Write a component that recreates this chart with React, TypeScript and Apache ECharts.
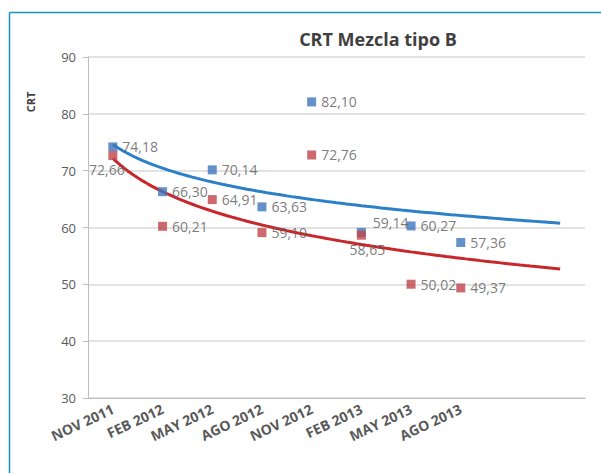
import React, { useEffect, useRef } from "react";
import * as echarts from "echarts";

const categories = ["NOV 2011", "FEB 2012", "MAY 2012", "AGO 2012", "NOV 2012", "FEB 2013", "MAY 2013", "AGO 2013"];
const forecastSlots = ["", ""];
const blueValues = [74.18, 66.3, 70.14, 63.63, 82.1, 59.14, 60.27, 57.36];
const redValues = [72.66, 60.21, 64.91, 59.1, 72.76, 58.65, 50.02, 49.37];
const yTicks = { min: 30, max: 90, interval: 10 };

// Logarithmic least-squares trendline (as the spreadsheet's trendline), forecast 2 periods
function logFit(values: number[]) {
  const xs = values.map((_, i) => Math.log(i + 1));
  const n = values.length;
  const mx = xs.reduce((a, b) => a + b, 0) / n;
  const my = values.reduce((a, b) => a + b, 0) / n;
  let sxy = 0, sxx = 0;
  xs.forEach((x, i) => { sxy += (x - mx) * (values[i] - my); sxx += (x - mx) * (x - mx); });
  const a = sxy / sxx;
  const b = my - a * mx;
  const pts: number[][] = [];
  for (let k = 10; k <= (n + 2) * 10; k++) {
    const x = k / 10;
    pts.push([x, a * Math.log(x) + b]);
  }
  return pts;
}

const fmt = (v: number) => v.toFixed(2).replace(".", ",");
const FONT = "'Open Sans', Lato, sans-serif";

export default function App() {
  const ref = useRef<HTMLDivElement>(null);
  useEffect(() => {
    if (!ref.current) return;
    const chart = echarts.init(ref.current, undefined, { renderer: "svg" });
    const xCats = [...categories, ...forecastSlots];
    const labelBase = { show: true, color: "#595959", fontSize: 14, fontFamily: FONT, distance: 5, formatter: (p: any) => fmt(p.value) };
    const blueLabel: any[] = blueValues.map(() => ({}));
    blueLabel[5] = { offset: [2, -10] };
    const redLabel: any[] = redValues.map(() => ({}));
    redLabel[0] = { position: "bottom", offset: [-6, -3] };
    redLabel[5] = { position: "bottom", offset: [6, -2] };
    chart.setOption({
      animation: false,
      backgroundColor: "#ffffff",
      textStyle: { fontFamily: FONT },
      grid: { left: 88, right: 16, top: 57, bottom: 75, containLabel: false },
      xAxis: [
        {
          type: "category",
          data: xCats,
          boundaryGap: true,
          axisLine: { lineStyle: { color: "#bfbfbf" } },
          axisTick: { show: false },
          axisLabel: { rotate: 25, color: "#595959", fontSize: 14, fontWeight: "bold", fontFamily: FONT, margin: 10, interval: 0 },
          splitLine: { show: false },
        },
        { type: "value", min: 0.5, max: 10.5, show: false },
      ],
      yAxis: {
        type: "value",
        min: yTicks.min,
        max: yTicks.max,
        interval: yTicks.interval,
        axisLine: { show: true, lineStyle: { color: "#bfbfbf" } },
        axisTick: { show: true, length: 5, lineStyle: { color: "#bfbfbf" } },
        axisLabel: { color: "#595959", fontSize: 13, fontFamily: FONT, margin: 12 },
        splitLine: { lineStyle: { color: "#d9d9d9", width: 1.5 } },
      },
      series: [
        {
          type: "line",
          xAxisIndex: 1,
          data: logFit(blueValues),
          showSymbol: false,
          lineStyle: { color: "#2b80c8", width: 3 },
          z: 2,
        },
        {
          type: "line",
          xAxisIndex: 1,
          data: logFit(redValues),
          showSymbol: false,
          lineStyle: { color: "#c8282c", width: 3 },
          z: 2,
        },
        {
          type: "scatter",
          xAxisIndex: 0,
          data: blueValues.map((v, i) => ({ value: v, label: blueLabel[i] })),
          symbol: "rect",
          symbolSize: 9,
          itemStyle: { color: "#3d76bb" },
          label: { ...labelBase, position: "right" },
          z: 3,
        },
        {
          type: "scatter",
          xAxisIndex: 0,
          data: redValues.map((v, i) => ({ value: v, label: redLabel[i] })),
          symbol: "rect",
          symbolSize: 9,
          itemStyle: { color: "#c0454b" },
          label: { ...labelBase, position: "right" },
          z: 4,
        },
      ],
      graphic: [
        { type: "line", shape: { x1: 9.5, y1: 12.5, x2: 601, y2: 12.5 }, style: { stroke: "#1f8ec9", lineWidth: 1.5 } },
        { type: "line", shape: { x1: 9.5, y1: 12.5, x2: 9.5, y2: 473 }, style: { stroke: "#1f8ec9", lineWidth: 1.5 } },
        {
          type: "text",
          x: 378,
          y: 39,
          style: { text: "CRT Mezcla tipo B", font: `bold 18px ${FONT}`, fill: "#404040", textAlign: "center", textVerticalAlign: "middle" },
        },
        {
          type: "text",
          x: 30,
          y: 102,
          rotation: Math.PI / 2,
          style: { text: "CRT", font: `bold 11px ${FONT}`, fill: "#404040", textAlign: "center", textVerticalAlign: "middle" },
        },
      ],
    });
    return () => chart.dispose();
  }, []);
  return <div ref={ref} style={{ position: "fixed", left: 0, top: 0, width: 601, height: 473 }} />;
}
